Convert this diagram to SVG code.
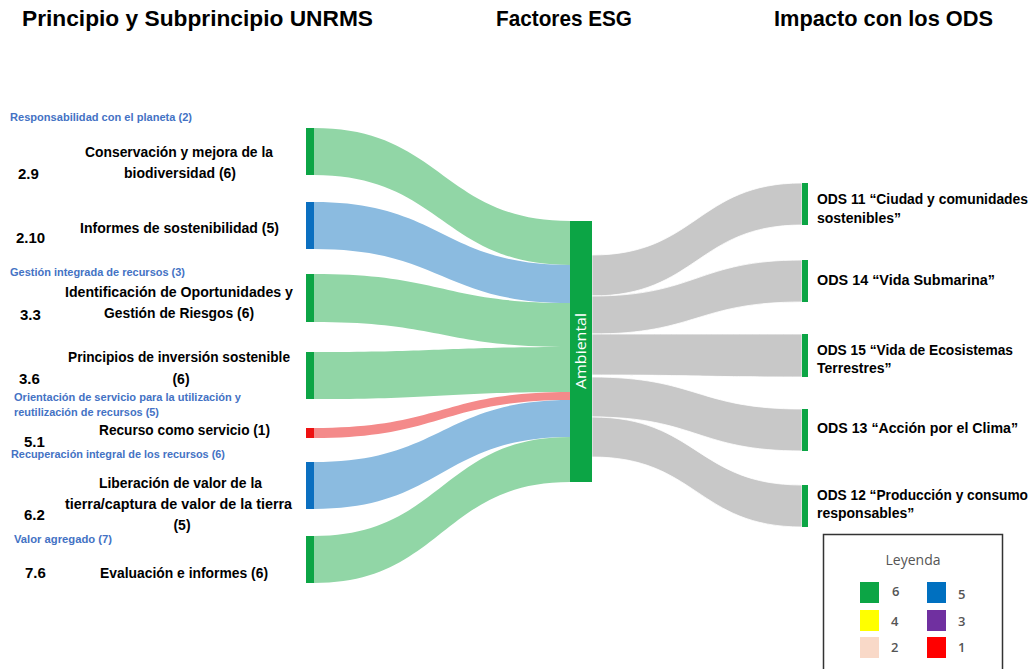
<svg xmlns="http://www.w3.org/2000/svg" width="1032" height="669" viewBox="0 0 1032 669">
<style>
.title{font-family:"Liberation Sans",Arial,sans-serif;font-weight:bold;font-size:22px;fill:#000}
.lbl{font-family:"Liberation Sans",Arial,sans-serif;font-weight:bold;font-size:14px;fill:#000}
.num{font-family:"Liberation Sans",Arial,sans-serif;font-weight:bold;font-size:15px;fill:#000}
.sub{font-family:"Liberation Sans",Arial,sans-serif;font-weight:bold;font-size:10.5px;fill:#4472C4}
.ods{font-family:"Liberation Sans",Arial,sans-serif;font-weight:bold;font-size:14px;fill:#000}
.leg{font-family:"Open Sans","Noto Sans",sans-serif;font-size:14px;font-weight:500;fill:#555}
.legn{font-family:"Open Sans","Noto Sans",sans-serif;font-weight:600;font-size:13px;fill:#555}
.ng{fill:#0ca545}.nb{fill:#0b6fc0}.nr{fill:#ee1111}
.fg{fill:#91d6a6}.fb{fill:#8bbbe0}.fr{fill:#f48a8a}.fy{fill:#c8c8c8;stroke:#fff;stroke-width:0.8}
</style>
<rect width="1032" height="669" fill="#fff"/>
<g id="titles">
<text class="title" x="22" y="26" textLength="351" lengthAdjust="spacingAndGlyphs">Principio y Subprincipio UNRMS</text>
<text class="title" x="496" y="26" textLength="136" lengthAdjust="spacingAndGlyphs">Factores ESG</text>
<text class="title" x="774" y="26" textLength="219" lengthAdjust="spacingAndGlyphs">Impacto con los ODS</text>
</g>
<g id="connectors">
<path class="fg" d="M314,128 C442,128 442,221 570,221 L570,265 C442,265 442,175 314,175 Z"/>
<path class="fb" d="M314,202 C442,202 442,265 570,265 L570,303 C442,303 442,249 314,249 Z"/>
<path class="fg" d="M314,274 C442,274 442,303 570,303 L570,347 C442,347 442,322 314,322 Z"/>
<path class="fg" d="M314,352 C442,352 442,347 570,347 L570,392 C442,392 442,399 314,399 Z"/>
<path class="fr" d="M314,428 C442,428 442,392 570,392 L570,400 C442,400 442,438 314,438 Z"/>
<path class="fb" d="M314,462 C442,462 442,400 570,400 L570,437 C442,437 442,509 314,509 Z"/>
<path class="fg" d="M314,536 C442,536 442,437 570,437 L570,482 C442,482 442,583 314,583 Z"/>
<path class="fy" d="M592,255 C697,255 697,183 802,183 L802,225 C697,225 697,296 592,296 Z"/>
<path class="fy" d="M592,296 C697,296 697,260 802,260 L802,302 C697,302 697,334 592,334 Z"/>
<path class="fy" d="M592,334 C697,334 697,334 802,334 L802,377 C697,377 697,375 592,375 Z"/>
<path class="fy" d="M592,377 C697,377 697,409 802,409 L802,451 C697,451 697,417 592,417 Z"/>
<path class="fy" d="M592,417 C697,417 697,485 802,485 L802,527 C697,527 697,457 592,457 Z"/>
</g>
<g id="sub-labels">
<text class="sub" x="10" y="121" textLength="182" lengthAdjust="spacingAndGlyphs">Responsabilidad con el planeta (2)</text>
<text class="sub" x="10" y="276" textLength="175" lengthAdjust="spacingAndGlyphs">Gestión integrada de recursos (3)</text>
<text class="sub" x="14" y="401" textLength="227" lengthAdjust="spacingAndGlyphs">Orientación de servicio para la utilización y</text>
<text class="sub" x="14" y="416" textLength="145" lengthAdjust="spacingAndGlyphs">reutilización de recursos (5)</text>
<text class="sub" x="11" y="458" textLength="214" lengthAdjust="spacingAndGlyphs">Recuperación integral de los recursos (6)</text>
<text class="sub" x="14" y="543" textLength="98" lengthAdjust="spacingAndGlyphs">Valor agregado (7)</text>
</g>
<g id="node-2-9">
<rect class="ng" x="306" y="128" width="8" height="47"/>
<text class="num" x="18" y="179">2.9</text>
<text class="lbl" x="179" y="157" text-anchor="middle" textLength="188" lengthAdjust="spacingAndGlyphs">Conservación y mejora de la</text>
<text class="lbl" x="180" y="178" text-anchor="middle" textLength="112" lengthAdjust="spacingAndGlyphs">biodiversidad (6)</text>
</g>
<g id="node-2-10">
<rect class="nb" x="306" y="202" width="8" height="47"/>
<text class="num" x="16" y="243">2.10</text>
<text class="lbl" x="179.5" y="233" text-anchor="middle" textLength="199" lengthAdjust="spacingAndGlyphs">Informes de sostenibilidad (5)</text>
</g>
<g id="node-3-3">
<rect class="ng" x="306" y="274" width="8" height="48"/>
<text class="num" x="20" y="320">3.3</text>
<text class="lbl" x="179" y="297" text-anchor="middle" textLength="228" lengthAdjust="spacingAndGlyphs">Identificación de Oportunidades y</text>
<text class="lbl" x="179" y="318" text-anchor="middle" textLength="150" lengthAdjust="spacingAndGlyphs">Gestión de Riesgos (6)</text>
</g>
<g id="node-3-6">
<rect class="ng" x="306" y="352" width="8" height="47"/>
<text class="num" x="19" y="384">3.6</text>
<text class="lbl" x="179" y="362" text-anchor="middle" textLength="222" lengthAdjust="spacingAndGlyphs">Principios de inversión sostenible</text>
<text class="lbl" x="181" y="384" text-anchor="middle">(6)</text>
</g>
<g id="node-5-1">
<rect class="nr" x="306" y="428" width="8" height="10"/>
<text class="num" x="24" y="447">5.1</text>
<text class="lbl" x="184.5" y="435" text-anchor="middle" textLength="171" lengthAdjust="spacingAndGlyphs">Recurso como servicio (1)</text>
</g>
<g id="node-6-2">
<rect class="nb" x="306" y="462" width="8" height="47"/>
<text class="num" x="24" y="520">6.2</text>
<text class="lbl" x="180.5" y="488" text-anchor="middle" textLength="163" lengthAdjust="spacingAndGlyphs">Liberación de valor de la</text>
<text class="lbl" x="178.5" y="509" text-anchor="middle" textLength="227" lengthAdjust="spacingAndGlyphs">tierra/captura de valor de la tierra</text>
<text class="lbl" x="182" y="530" text-anchor="middle">(5)</text>
</g>
<g id="node-7-6">
<rect class="ng" x="306" y="536" width="8" height="47"/>
<text class="num" x="25" y="578">7.6</text>
<text class="lbl" x="184" y="578" text-anchor="middle" textLength="168" lengthAdjust="spacingAndGlyphs">Evaluación e informes (6)</text>
</g>
<g id="node-ambiental">
<rect class="ng" x="570" y="221" width="22" height="261"/>
<text x="586" y="351" transform="rotate(-90 586 351)" text-anchor="middle" font-family="'Open Sans','Noto Sans',sans-serif" font-size="15" font-weight="400" fill="#fff" textLength="76" lengthAdjust="spacingAndGlyphs">Ambiental</text>
</g>
<g id="node-ods11">
<rect class="ng" x="802" y="183" width="6" height="42"/>
<text class="ods" x="817" y="204" textLength="211" lengthAdjust="spacingAndGlyphs">ODS 11 “Ciudad y comunidades</text>
<text class="ods" x="817" y="223">sostenibles”</text>
</g>
<g id="node-ods14">
<rect class="ng" x="802" y="260" width="6" height="42"/>
<text class="ods" x="817" y="285" textLength="178" lengthAdjust="spacingAndGlyphs">ODS 14 “Vida Submarina”</text>
</g>
<g id="node-ods15">
<rect class="ng" x="802" y="334" width="6" height="43"/>
<text class="ods" x="817" y="355" textLength="196" lengthAdjust="spacingAndGlyphs">ODS 15 “Vida de Ecosistemas</text>
<text class="ods" x="817" y="373">Terrestres”</text>
</g>
<g id="node-ods13">
<rect class="ng" x="802" y="409" width="6" height="42"/>
<text class="ods" x="817" y="433" textLength="201" lengthAdjust="spacingAndGlyphs">ODS 13  “Acción por el Clima”</text>
</g>
<g id="node-ods12">
<rect class="ng" x="802" y="485" width="6" height="42"/>
<text class="ods" x="817" y="500" textLength="211" lengthAdjust="spacingAndGlyphs">ODS 12 “Producción y consumo</text>
<text class="ods" x="817" y="518">responsables”</text>
</g>
<g id="legend">
<rect x="823.5" y="534.5" width="179" height="150" fill="#fff" stroke="#333" stroke-width="1.5"/>
<text class="leg" x="913" y="565" text-anchor="middle">Leyenda</text>
<rect x="860" y="582" width="19" height="21" fill="#0ca545"/>
<rect x="927" y="582" width="19" height="21" fill="#0070c0"/>
<rect x="860" y="610" width="19" height="21" fill="#ffff00"/>
<rect x="927" y="610" width="19" height="21" fill="#7030a0"/>
<rect x="860" y="637" width="19" height="21" fill="#f9d9c8"/>
<rect x="927" y="637" width="19" height="21" fill="#ff0000"/>
<text class="legn" x="892" y="596">6</text>
<text class="legn" x="958" y="599">5</text>
<text class="legn" x="891" y="626">4</text>
<text class="legn" x="958" y="626">3</text>
<text class="legn" x="891" y="652">2</text>
<text class="legn" x="958" y="652">1</text>
</g>
</svg>
